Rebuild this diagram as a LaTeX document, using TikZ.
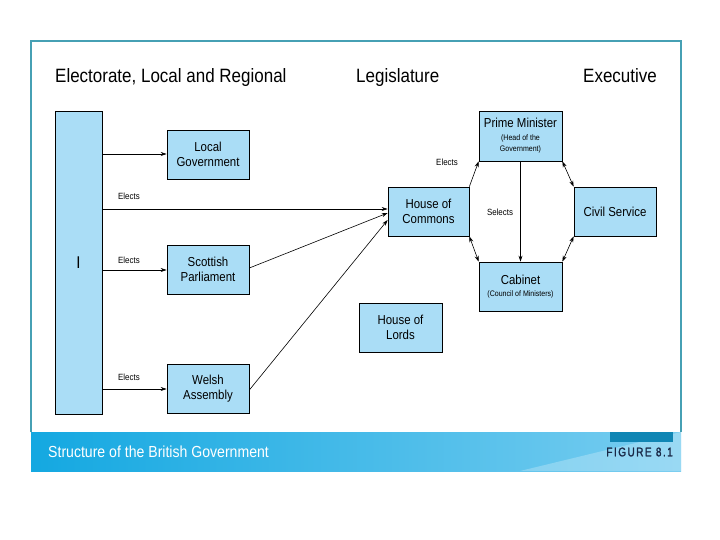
\documentclass[tikz,border=0pt]{standalone}
\usepackage{fontspec}
\setmainfont{Liberation Sans}
\newfontfamily\condfont[FakeStretch=0.88]{Liberation Sans}
\newfontfamily\figfont[FakeStretch=0.8,FakeBold=1.5,LetterSpace=12]{Liberation Sans}
\usetikzlibrary{arrows.meta}
\definecolor{boxfill}{RGB}{170,221,246}
\definecolor{frame}{RGB}{70,160,180}
\definecolor{banL}{RGB}{20,168,225}
\definecolor{banR}{RGB}{120,205,240}
\definecolor{navy}{RGB}{25,40,70}
\tikzset{
  gbox/.style={draw=black, line width=0.7pt, fill=boxfill, minimum width=#1, inner sep=0pt, align=center, font=\condfont\fontsize{13}{15}\selectfont},
  arr/.style={-{Stealth[length=6pt,width=4pt]}, line width=0.6pt},
  darr/.style={{Stealth[length=6pt,width=4pt]}-{Stealth[length=6pt,width=4pt]}, line width=0.6pt},
  lbl/.style={font=\condfont\fontsize{9}{9}\selectfont, inner sep=0pt},
  ttl/.style={font=\condfont\fontsize{19.3}{20}\selectfont, inner sep=0pt, anchor=base west}
}
\begin{document}
\begin{tikzpicture}[x=1pt,y=-1pt]
\useasboundingbox (0,0) rectangle (720,540);
\fill[white] (0,0) rectangle (720,540);
% frame
\draw[frame, line width=1.2pt] (31,432) -- (31,41) -- (681,41) -- (681,432);
% banner
\shade[left color=banL, right color=banR] (31,432) rectangle (681,471);
\fill[white, opacity=0.25] (520,471) -- (681,432) -- (681,471) -- cycle;
\fill[banL!80!black] (610,432) rectangle (673,442);
\node[anchor=west, white, font=\condfont\fontsize{16}{17}\selectfont, inner sep=0pt] (cap) at (48,452) {Structure of the British Government};
\node[anchor=east, navy, font=\figfont\fontsize{12.5}{13}\selectfont, inner sep=0pt] (fig) at (673,452) {FIGURE 8.1};
% titles
\node[ttl] (t1) at (55,83) {Electorate, Local and Regional};
\node[ttl] (t2) at (356,83) {Legislature};
\node[ttl] (t3) at (583,83) {Executive};
% boxes
\node[gbox=47pt, minimum height=303pt, font=\condfont\fontsize{17}{18}\selectfont] (I) at (78.5,262.5) {I};
\node[gbox=82pt, minimum height=49pt] (lg) at (208,154.5) {Local\\Government};
\node[gbox=82pt, minimum height=49pt] (sp) at (208,269.5) {Scottish\\Parliament};
\node[gbox=82pt, minimum height=49pt] (wa) at (208,388.5) {Welsh\\Assembly};
\node[gbox=81pt, minimum height=49pt] (hc) at (428.5,211.5) {House of\\Commons};
\node[gbox=83pt, minimum height=49pt] (hl) at (400.5,327.5) {House of\\Lords};
\node[gbox=83pt, minimum height=50pt] (pm) at (520.5,136) {Prime Minister\\[-2pt]{\fontsize{8}{9}\selectfont (Head of the}\\[-4pt]{\fontsize{8}{9}\selectfont Government)}};
\node[gbox=82pt, minimum height=49pt] (cs) at (615,211.5) {Civil Service};
\node[gbox=83pt, minimum height=49pt] (cab) at (520.5,286.5) {Cabinet\\[-3pt]{\fontsize{8}{9}\selectfont (Council of Ministers)}};
% electorate arrows
\draw[arr] (I.east |- 0,154) -- (lg.west |- 0,154);
\draw[arr] (I.east |- 0,209) -- (hc.west |- 0,209);
\draw[arr] (I.east |- 0,270) -- (sp.west |- 0,270);
\draw[arr] (I.east |- 0,389) -- (wa.west |- 0,389);
\node[lbl, anchor=west] (e1) at (118,196) {Elects};
\node[lbl, anchor=west] (e2) at (118,260) {Elects};
\node[lbl, anchor=west] (e3) at (118,377) {Elects};
% regional to commons
\draw[arr] (sp.east |- 0,268) -- (hc.west |- 0,213);
\draw[arr] (wa.east |- 0,390) -- (hc.west |- 0,220);
% executive
\draw[arr] (hc.north east) -- (pm.south west);
\node[lbl] (e4) at (447,162) {Elects};
\draw[darr] (pm.south east) -- (cs.north west);
\draw[darr] (cab.north east) -- (cs.south west);
\draw[darr] (hc.south east) -- (cab.north west);
\draw[arr] (pm.south) -- (cab.north);
\node[lbl] (sel) at (500,212) {Selects};
\end{tikzpicture}
\end{document}
